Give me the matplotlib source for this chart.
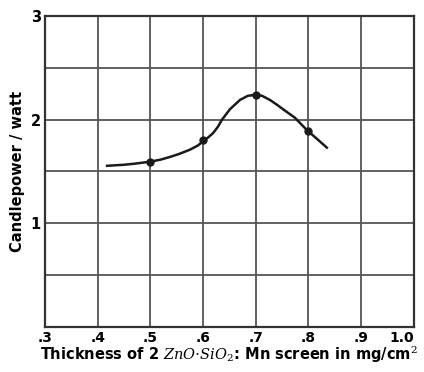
import matplotlib
matplotlib.use("Agg")
import matplotlib.pyplot as plt

plt.rcParams['font.family'] = ['DejaVu Sans']
plt.rcParams['mathtext.fontset'] = 'dejavuserif'

# measured points (thickness mg/cm2, candlepower/watt)
pts_x = [0.5, 0.6, 0.7, 0.8]
pts_y = [1.59, 1.80, 2.24, 1.89]

# drawn curve
curve_x = [0.418, 0.45, 0.47, 0.5, 0.52, 0.537, 0.555, 0.575, 0.59, 0.6, 0.61,
           0.619, 0.628, 0.636, 0.651, 0.67, 0.685, 0.70, 0.712, 0.727, 0.74,
           0.752, 0.774, 0.797, 0.815, 0.835]
curve_y = [1.555, 1.565, 1.575, 1.595, 1.615, 1.64, 1.67, 1.71, 1.75, 1.79, 1.83,
           1.87, 1.93, 2.0, 2.10, 2.19, 2.23, 2.24, 2.23, 2.19, 2.145,
           2.10, 2.02, 1.90, 1.82, 1.73]

xticks = [0.3, 0.4, 0.5, 0.6, 0.7, 0.8, 0.9, 1.0]
xticklabels = ['.3', '.4', '.5', '.6', '.7', '.8', '.9', '1.0']
yticks = [0, 0.5, 1, 1.5, 2, 2.5, 3]
yticklabels = ['', '', '1', '', '2', '', '3']

fig = plt.figure(figsize=(4.24, 3.72), dpi=100)
ax = fig.add_axes([0.106, 0.121, 0.870, 0.836])

ax.plot(curve_x, curve_y, color='#1a1a1a', lw=1.8, solid_joinstyle='round')
ax.plot(pts_x, pts_y, 'o', color='#1a1a1a', ms=5)

ax.set_xlim(0.3, 1.0)
ax.set_ylim(0, 3)
ax.set_xticks(xticks)
ax.set_xticklabels(xticklabels, fontweight='bold', fontsize=10)
ax.set_yticks(yticks)
ax.set_yticklabels(yticklabels, fontweight='bold', fontsize=10.5)
ax.tick_params(length=0, pad=3)
ax.grid(True, color='#555555', lw=1.3)
for s in ax.spines.values():
    s.set_color('#333333')
    s.set_linewidth(1.6)
# keep the last tick label inside the image
ax.get_xticklabels()[-1].set_horizontalalignment('right')
ax.get_xticklabels()[-1].set_x(1.01)

ax.set_ylabel('Candlepower / watt', fontweight='bold', fontsize=10.5, labelpad=4)
fig.text(0.094, 0.018, r'Thickness of 2 $ZnO{\cdot}SiO_2$: Mn screen in mg/cm$^2$',
         fontweight='bold', fontsize=10.5, ha='left', va='bottom')

fig.savefig('out.png', dpi=100)
